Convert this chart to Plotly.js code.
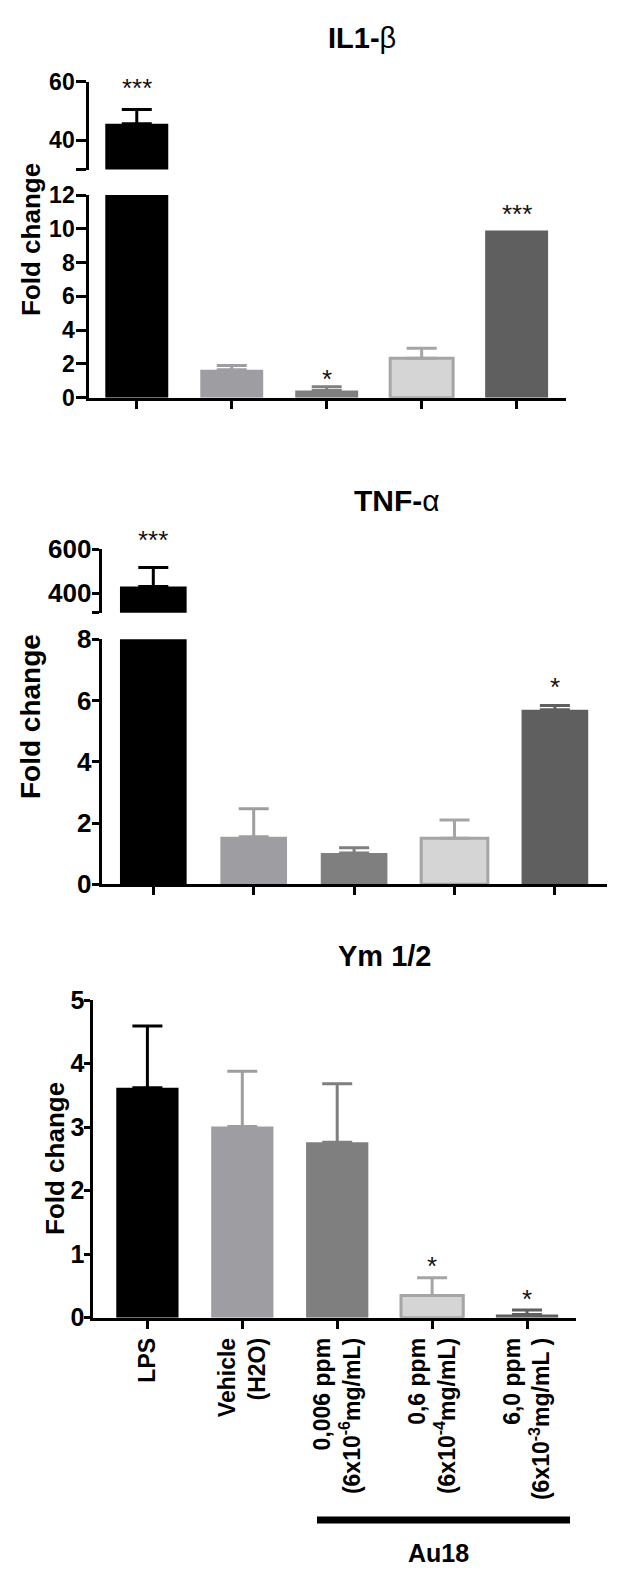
<!DOCTYPE html>
<html>
<head>
<meta charset="utf-8">
<script src="https://cdn.plot.ly/plotly-3.0.1.min.js"></script>
<style>html,body{margin:0;padding:0;background:#fff;}#chart{width:626px;height:1580px;}</style>
</head>
<body>
<div id="chart"></div>
<script>
// ---------- data ----------
const categories = [
  'LPS',
  'Vehicle<br>(H2O)',
  '0,006 ppm<br>(6x10<sup>-6</sup>mg/mL)',
  '0,6 ppm<br>(6x10<sup>-4</sup>mg/mL)',
  '6,0 ppm<br>(6x10<sup>-3</sup>mg/mL )'
];
const panelTitles = ['<b>IL1-</b>β', '<b>TNF-</b>α', '<b>Ym 1/2</b>'];
const yTitle = 'Fold change';
const groupLabel = 'Au18';

const il1bMean = [45.6, 1.65, 0.42, 2.33, 9.9];
const il1bSem  = [4.9, 0.25, 0.23, 0.6, 0];
const il1bStars = ['***', '', '*', '', '***'];

const tnfMean = [430, 1.55, 1.02, 1.5, 5.7];
const tnfSem  = [86, 0.92, 0.17, 0.6, 0.14];
const tnfStars = ['***', '', '', '', '*'];

const ymMean = [3.62, 3.01, 2.76, 0.35, 0.05];
const ymSem  = [0.97, 0.87, 0.92, 0.28, 0.07];
const ymStars = ['', '', '', '*', '*'];

// broken-axis ranges and ticks
const il1bLowRange = [0, 12], il1bLowTicks = [0, 2, 4, 6, 8, 10, 12];
const il1bHighRange = [30, 60], il1bHighTicks = [30, 40, 60], il1bHighText = ['', '40', '60'];
const tnfLowRange = [0, 8], tnfLowTicks = [0, 2, 4, 6, 8];
const tnfHighRange = [312, 600], tnfHighTicks = [312, 400, 600], tnfHighText = ['', '400', '600'];
const ymRange = [0, 5], ymTicks = [0, 1, 2, 3, 4, 5];

// ---------- styles ----------
const FONT = '"Liberation Sans", Arial, Helvetica, sans-serif';
const fills = ['#000000', '#9e9ea2', '#7f7f7f', '#d5d5d5', '#5f5f5f'];
const lines = ['#000000', '#9e9ea2', '#7f7f7f', '#a5a5a5', '#5f5f5f'];
const lineW = [0, 0, 0, 3, 0];
const errCol = ['#000000', '#9e9ea2', '#7f7f7f', '#a5a5a5', '#5f5f5f'];
const W = 626, H = 1580;
const fy = px => 1 - px / H;
const fx = px => px / W;

const traces = [];
const annotations = [];

function addBars(mean, sem, xa, ya, barW, skipFirst) {
  for (let i = 0; i < categories.length; i++) {
    if (skipFirst && i === 0) continue;
    traces.push({
      type: 'bar', x: [categories[i]], y: [mean[i]], width: [barW],
      xaxis: xa, yaxis: ya,
      marker: {color: fills[i], line: {color: lines[i], width: lineW[i]}},
      error_y: {type: 'data', symmetric: false, array: [sem[i]], arrayminus: [0],
                visible: sem[i] > 0, color: errCol[i], thickness: 3, width: 15},
      hoverinfo: 'skip'
    });
  }
}
function addBrokenTop(mean, sem, xa, ya, barW) {
  traces.push({
    type: 'bar', x: [categories[0]], y: [mean[0]], width: [barW], xaxis: xa, yaxis: ya,
    marker: {color: fills[0], line: {width: 0}},
    error_y: {type: 'data', symmetric: false, array: [sem[0]], arrayminus: [0],
              color: errCol[0], thickness: 3, width: 15},
    hoverinfo: 'skip'
  });
}
function addLowLPS(mean, xa, ya, barW) {
  traces.push({
    type: 'bar', x: [categories[0]], y: [mean[0]], width: [barW], xaxis: xa, yaxis: ya,
    marker: {color: fills[0], line: {width: 0}}, hoverinfo: 'skip'
  });
}
function addStars(stars, mean, sem, xref, yrefs, shifts) {
  stars.forEach((s, i) => {
    if (!s) return;
    annotations.push({
      text: s, x: categories[i], y: mean[i] + sem[i], xref: xref, yref: yrefs[i],
      showarrow: false, yanchor: 'middle', yshift: shifts[i],
      font: {family: FONT, size: 26, color: '#111'}
    });
  });
}

// Panel 1 IL1-beta
addLowLPS(il1bMean, 'x', 'y', 0.663);
addBars(il1bMean, il1bSem, 'x', 'y', 0.663, true);
addBrokenTop(il1bMean, il1bSem, 'x', 'y2', 0.663);
addStars(il1bStars, il1bMean, il1bSem, 'x', ['y2', 'y', 'y', 'y', 'y'], [21, 0, 8, 0, 16]);

// Panel 2 TNF-alpha
addLowLPS(tnfMean, 'x2', 'y3', 0.664);
addBars(tnfMean, tnfSem, 'x2', 'y3', 0.664, true);
addBrokenTop(tnfMean, tnfSem, 'x2', 'y4', 0.664);
addStars(tnfStars, tnfMean, tnfSem, 'x2', ['y4', 'y3', 'y3', 'y3', 'y3'], [28, 0, 0, 0, 18]);

// Panel 3 Ym 1/2
addBars(ymMean, ymSem, 'x3', 'y5', 0.656, false);
addStars(ymStars, ymMean, ymSem, 'x3', ['y5', 'y5', 'y5', 'y5', 'y5'], [0, 0, 0, 12, 11]);

// titles
const titlePos = [[362.5, 38], [396.7, 500], [385, 956]];
const titleSize = [29, 30, 29];
panelTitles.forEach((t, k) => annotations.push({
  text: t, x: fx(titlePos[k][0]), y: fy(titlePos[k][1]), xref: 'paper', yref: 'paper',
  showarrow: false, xanchor: 'center', yanchor: 'middle',
  font: {family: FONT, size: titleSize[k], color: '#000'}
}));
// axis titles
const yTitlePos = [[31, 240], [30, 717], [55, 1159]];
const yTitleSize = [26, 28, 26];
yTitlePos.forEach((p, k) => annotations.push({
  text: '<b>' + yTitle + '</b>', x: fx(p[0]), y: fy(p[1]), xref: 'paper', yref: 'paper',
  showarrow: false, textangle: -90, xanchor: 'center', yanchor: 'middle',
  font: {family: FONT, size: yTitleSize[k], color: '#000'}
}));
annotations.push({
  text: '<b>' + groupLabel + '</b>', x: fx(438), y: fy(1553), xref: 'paper', yref: 'paper',
  showarrow: false, xanchor: 'center', yanchor: 'middle',
  font: {family: FONT, size: 25, color: '#000'}
});

function yAx(domain, range, tickvals, ticktext, anchor, fsize, tlen, standoff) {
  const a = {domain: domain, range: range, anchor: anchor, tickmode: 'array', tickvals: tickvals,
    showline: true, linecolor: '#000', linewidth: 3, ticks: 'outside', ticklen: tlen, tickwidth: 3,
    tickcolor: '#000', showgrid: false, zeroline: false, ticklabelstandoff: standoff,
    tickfont: {family: FONT, size: fsize, color: '#000', weight: 'bold'}, fixedrange: true};
  if (ticktext) a.ticktext = ticktext;
  return a;
}
function xAx(domain, range, anchor, showLabels) {
  return {domain: domain, range: range, anchor: anchor, type: 'category',
    showline: true, linecolor: '#000', linewidth: 3, ticks: 'outside', ticklen: 8, tickwidth: 3,
    tickcolor: '#000', showgrid: false, zeroline: false, showticklabels: showLabels,
    tickangle: -90, tickfont: {family: FONT, size: 23, color: '#000', weight: 'bold'}, fixedrange: true};
}

const layout = {
  width: W, height: H, margin: {l: 0, r: 0, t: 0, b: 0},
  paper_bgcolor: '#fff', plot_bgcolor: 'rgba(0,0,0,0)',
  showlegend: false, barmode: 'overlay',
  xaxis:  xAx([fx(89.3), fx(566)], [-0.5, 4.52], 'y', false),
  yaxis:  yAx([fy(397.7), fy(195)], il1bLowRange, il1bLowTicks, null, 'x', 23, 10, -3),
  yaxis2: yAx([fy(169.5), fy(81.7)], il1bHighRange, il1bHighTicks, il1bHighText, 'x', 23, 10, -3),
  xaxis2: xAx([fx(101.7), fx(606.7)], [-0.514, 4.516], 'y3', false),
  yaxis3: yAx([fy(884.3), fy(639.3)], tnfLowRange, tnfLowTicks, null, 'x2', 26, 7, -5),
  yaxis4: yAx([fy(612.7), fy(549)], tnfHighRange, tnfHighTicks, tnfHighText, 'x2', 26, 7, -5),
  xaxis3: xAx([fx(93.3), fx(576)], [-0.57, 4.516], 'y5', true),
  yaxis5: yAx([fy(1317.7), fy(1000)], ymRange, ymTicks, null, 'x3', 25, 6, -5),
  annotations: annotations,
  shapes: [{type: 'line', xref: 'x3', yref: 'paper', x0: 1.787, x1: 4.453,
            y0: fy(1520), y1: fy(1520), line: {color: '#000', width: 7}}]
};

Plotly.newPlot('chart', traces, layout, {staticPlot: true, displayModeBar: false});
</script>
</body>
</html>
